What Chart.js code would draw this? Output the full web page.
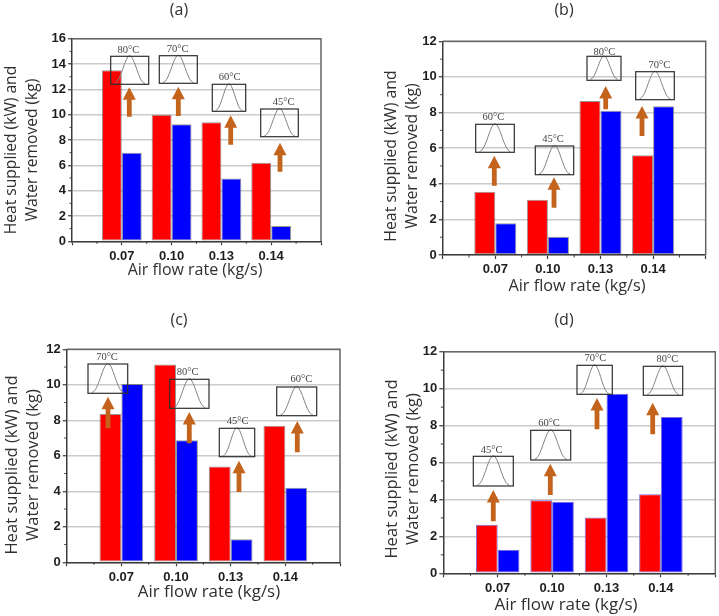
<!DOCTYPE html>
<html>
<head>
<meta charset="utf-8">
<title>Heat supplied and water removed against air flow rate</title>
<script src="https://cdn.jsdelivr.net/npm/chart.js@4/dist/chart.umd.js"></script>
<style>
  html, body { margin: 0; padding: 0; background: #fff; }
  body { position: relative; width: 719px; height: 616px; overflow: hidden; }
  canvas { position: absolute; display: block; }
</style>
</head>
<body>
<script>
// Air flow rates shared by the four panels
const categories = ['0.07', '0.10', '0.13', '0.14'];

// Heat supplied (kW) per panel
const heatA = [13.5, 10.0, 9.4, 6.2];
const heatB = [3.55, 3.1, 8.65, 5.6];
const heatC = [8.35, 11.15, 5.4, 7.7];
const heatD = [2.63, 3.95, 3.02, 4.28];

// Water removed (kg) per panel
const waterA = [7.0, 9.25, 4.95, 1.2];
const waterB = [1.78, 1.03, 8.1, 8.35];
const waterC = [10.05, 6.87, 1.3, 4.2];
const waterD = [1.27, 3.88, 9.72, 8.47];

// Peak temperature of the heating profile above each bar pair
const tempsA = ['80°C', '70°C', '60°C', '45°C'];
const tempsB = ['60°C', '45°C', '80°C', '70°C'];
const tempsC = ['70°C', '80°C', '45°C', '60°C'];
const tempsD = ['45°C', '60°C', '70°C', '80°C'];

// Axis and panel wording
const panelTitles = ['(a)', '(b)', '(c)', '(d)'];
const yTitleLines = ['Heat supplied (kW) and', 'Water removed (kg)'];
const xTitle = 'Air flow rate (kg/s)';
const yMaxima = [16, 12, 12, 12];

// Page geometry of each panel: canvas box, plot box, free text anchors
const panelLayout = [
  { canvas: [0, 0, 360, 305],     plot: [72, 321, 38.7, 241.3],    title: [179, 10],  yLines: [12, 33],   yMid: 150, xMid: 195, xY: 270.5, yFont: 15.6, xFont: 16, edge: '#50505099' },
  { canvas: [360, 0, 359, 305],   plot: [442.7, 705.7, 41.3, 255], title: [564, 10],  yLines: [391, 412], yMid: 156, xMid: 577, xY: 286,   yFont: 15.9, xFont: 16.3, edge: '#50505099' },
  { canvas: [0, 305, 360, 311],   plot: [66.7, 340, 349.3, 562.3], title: [179, 320], yLines: [12, 33],   yMid: 465, xMid: 209, xY: 592.5, yFont: 16.6, xFont: 16.9, edge: '#50505099' },
  { canvas: [360, 305, 359, 311], plot: [443.3, 715.3, 351.7, 573.3], title: [564, 320], yLines: [392, 413], yMid: 469, xMid: 566, xY: 605, yFont: 16.6, xFont: 17, edge: '#7b6cd0' }
];

// Callout geometry on the page, one row per bar pair:
// box [left, right, top, bottom], label [x, y], arrow [x, tip, tail]
const calloutLayout = [
  [
    { box: [110.7, 148.7, 56.3, 84.3],  label: [128.3, 50],    arrow: [129.3, 87.3, 116.7] },
    { box: [159.3, 197.3, 55.7, 83.3],  label: [177.7, 49],    arrow: [178.3, 86.7, 116] },
    { box: [212.3, 245.7, 84.3, 111.3], label: [229.7, 77.3],  arrow: [230.7, 115.3, 144.7] },
    { box: [260.7, 298.3, 109, 136.7],  label: [283.7, 102],   arrow: [280, 142.7, 171.7] }
  ],
  [
    { box: [475.7, 514.3, 124.3, 152.3], label: [493.3, 117.3], arrow: [494.3, 155.7, 185.7] },
    { box: [535.3, 573.7, 146, 174.7],   label: [553, 139.3],   arrow: [554, 177.3, 207.7] },
    { box: [587, 621, 56.3, 80.3],       label: [604.3, 52],    arrow: [605.7, 86, 109.3] },
    { box: [635.7, 674.3, 71.7, 99.7],   label: [659.3, 65],    arrow: [642, 106, 136] }
  ],
  [
    { box: [88, 127.7, 364, 393.3],      label: [107, 357.3],   arrow: [108, 396.7, 428.3] },
    { box: [169.7, 209, 379.3, 408.3],   label: [187.7, 372.3], arrow: [189.3, 412, 443.3] },
    { box: [219.3, 254.7, 428.3, 456.7], label: [237.7, 421],   arrow: [239, 460.7, 492] },
    { box: [276.7, 316.7, 387, 415.7],   label: [301.3, 379.3], arrow: [297.3, 421, 452.3] }
  ],
  [
    { box: [473.3, 513.3, 456.3, 486],   label: [491.7, 450],   arrow: [493.3, 490, 521.3] },
    { box: [530.7, 570.7, 430.3, 460],   label: [549, 423.3],   arrow: [550.3, 463.7, 495] },
    { box: [577, 612.3, 365.3, 394.3],   label: [595.3, 358],   arrow: [597, 398, 429.3] },
    { box: [643.3, 682.7, 366.3, 395.3], label: [667.3, 359],   arrow: [652.7, 402.7, 434.3] }
  ]
];

const TEXT_FONT = '"Open Sans", sans-serif';
const TICK_FONT = { family: '"Liberation Sans", Arial, sans-serif', size: 13, weight: 'bold' };
const AXIS_COLOR = '#3c3c3c';
const ARROW_COLOR = '#c4641c';

function drawBell(ctx, box) {
  const [l, r, t, b] = box;
  const w = r - l, c = (l + r) / 2, base = b - 1, peak = t - 0.5;
  ctx.strokeStyle = '#808080';
  ctx.lineWidth = 1;
  ctx.beginPath();
  ctx.moveTo(c - 0.4 * w, base);
  ctx.bezierCurveTo(c - 0.24 * w, base, c - 0.13 * w, peak, c, peak);
  ctx.bezierCurveTo(c + 0.13 * w, peak, c + 0.24 * w, base, c + 0.4 * w, base);
  ctx.stroke();
}

function drawArrow(ctx, x, tip, tail) {
  const headHalf = 6.5, headLen = 12.5, shaftHalf = 2.4;
  ctx.fillStyle = ARROW_COLOR;
  ctx.beginPath();
  ctx.moveTo(x, tip);
  ctx.lineTo(x + headHalf, tip + headLen);
  ctx.lineTo(x + shaftHalf, tip + headLen);
  ctx.lineTo(x + shaftHalf, tail);
  ctx.lineTo(x - shaftHalf, tail);
  ctx.lineTo(x - shaftHalf, tip + headLen);
  ctx.lineTo(x - headHalf, tip + headLen);
  ctx.closePath();
  ctx.fill();
}

// Frame, minor ticks, callouts and free text for one panel
const panelDecor = {
  id: 'panelDecor',
  afterDatasetsDraw(chart, args, opts) {
    const ctx = chart.ctx;
    const layout = panelLayout[opts.index];
    const [ox, oy] = layout.canvas;
    const area = chart.chartArea;
    const yScale = chart.scales.y, xScale = chart.scales.x;
    ctx.save();

    // top and right edges of the frame
    ctx.strokeStyle = '#666666';
    ctx.lineWidth = 1.5;
    ctx.beginPath();
    ctx.moveTo(area.left, area.top);
    ctx.lineTo(area.right, area.top);
    ctx.lineTo(area.right, area.bottom);
    ctx.stroke();

    // minor ticks halfway between the labelled ones
    ctx.strokeStyle = AXIS_COLOR;
    ctx.lineWidth = 1;
    ctx.beginPath();
    for (let v = 1; v < yMaxima[opts.index]; v += 2) {
      const py = yScale.getPixelForValue(v);
      ctx.moveTo(area.left - 2.5, py);
      ctx.lineTo(area.left, py);
    }
    for (let i = 0.5; i < xScale.getLabels().length - 1; i += 1) {
      const px = xScale.getPixelForValue(i);
      ctx.moveTo(px, area.bottom);
      ctx.lineTo(px, area.bottom + 2.5);
    }
    ctx.stroke();

    // bell-shaped profile, temperature and arrow for each bar pair
    ctx.translate(-ox, -oy);
    calloutLayout[opts.index].forEach((c, i) => {
      drawBell(ctx, c.box);
      ctx.strokeStyle = '#2e2e2e';
      ctx.lineWidth = 1.2;
      ctx.strokeRect(c.box[0], c.box[2], c.box[1] - c.box[0], c.box[3] - c.box[2]);
      ctx.fillStyle = '#444444';
      ctx.font = '10.5px "Liberation Serif", serif';
      ctx.textAlign = 'center';
      ctx.textBaseline = 'middle';
      ctx.fillText(opts.temps[i], c.label[0], c.label[1]);
      drawArrow(ctx, c.arrow[0], c.arrow[1], c.arrow[2]);
    });

    // panel letter and axis titles
    ctx.fillStyle = '#303030';
    ctx.font = '16px ' + TEXT_FONT;
    ctx.fillText(panelTitles[opts.index], layout.title[0], layout.title[1]);

    ctx.font = layout.xFont + 'px ' + TEXT_FONT;
    ctx.fillText(xTitle, layout.xMid, layout.xY);
    ctx.font = layout.yFont + 'px ' + TEXT_FONT;
    yTitleLines.forEach((line, i) => {
      ctx.save();
      ctx.translate(layout.yLines[i], layout.yMid);
      ctx.rotate(-Math.PI / 2);
      ctx.fillText(line, 0, 0);
      ctx.restore();
    });
    ctx.restore();
  }
};

const heatSeries = [heatA, heatB, heatC, heatD];
const waterSeries = [waterA, waterB, waterC, waterD];
const tempSeries = [tempsA, tempsB, tempsC, tempsD];

panelLayout.forEach((layout, index) => {
  const [ox, oy, cw, ch] = layout.canvas;
  const [pl, pr, pt, pb] = layout.plot;

  const canvas = document.createElement('canvas');
  canvas.width = cw;
  canvas.height = ch;
  canvas.style.left = ox + 'px';
  canvas.style.top = oy + 'px';
  canvas.style.width = cw + 'px';
  canvas.style.height = ch + 'px';
  document.body.appendChild(canvas);

  const pad = v => [null, ...v, null];
  const barStyle = {
    categoryPercentage: 0.8,
    barPercentage: 1,
    borderColor: layout.edge,
    borderWidth: 1,
    borderSkipped: false
  };

  new Chart(canvas, {
    type: 'bar',
    data: {
      // blank slots leave one tick interval either side of the bars
      labels: ['', ...categories, ''],
      datasets: [
        { label: 'Heat supplied (kW)', data: pad(heatSeries[index]), backgroundColor: '#ff0000', ...barStyle },
        { label: 'Water removed (kg)', data: pad(waterSeries[index]), backgroundColor: '#0000ff', ...barStyle }
      ]
    },
    options: {
      responsive: false,
      animation: false,
      layout: { padding: { left: 0, top: pt - oy, right: ox + cw - pr, bottom: 0 } },
      plugins: {
        legend: { display: false },
        tooltip: { enabled: false },
        panelDecor: { index, temps: tempSeries[index] }
      },
      scales: {
        x: {
          offset: false,
          afterFit(scale) { scale.height = oy + ch - pb; },
          grid: { offset: false, drawOnChartArea: false, tickLength: 4, tickColor: AXIS_COLOR, tickWidth: 1.2 },
          border: { color: AXIS_COLOR, width: 1.5 },
          ticks: { font: TICK_FONT, color: '#1e1e1e', padding: 3, autoSkip: false, maxRotation: 0 }
        },
        y: {
          min: 0,
          max: yMaxima[index],
          afterFit(scale) { scale.width = pl - ox; },
          grid: { color: '#cbcbcb', lineWidth: 1.5, tickLength: 4, tickColor: AXIS_COLOR, tickWidth: 1.2 },
          border: { color: AXIS_COLOR, width: 1.5 },
          ticks: { stepSize: 2, font: TICK_FONT, color: '#1e1e1e', padding: 2 }
        }
      }
    },
    plugins: [panelDecor]
  });
});
</script>
</body>
</html>
